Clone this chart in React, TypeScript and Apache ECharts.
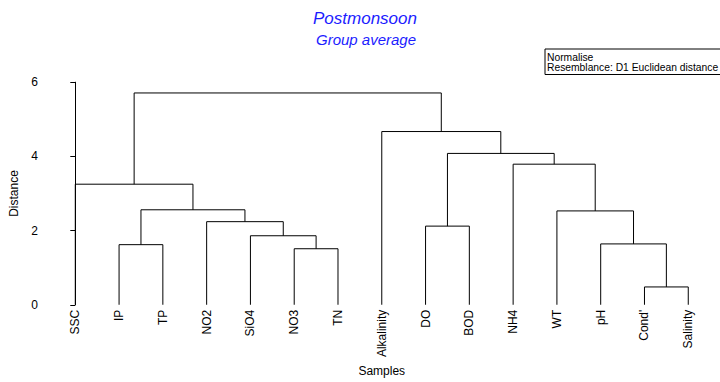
import React, { useEffect, useRef } from "react";
import * as echarts from "echarts";

const leaves = ["SSC", "IP", "TP", "NO2", "SiO4", "NO3", "TN", "Alkalinity", "DO", "BOD", "NH4", "WT", "pH", "Cond'", "Salinity"];
// merge steps: cluster ids 0..14 are leaves, merge k creates cluster 15+k
const mergeLeft = [13, 5, 1, 12, 4, 8, 3, 11, 17, 0, 10, 20, 7, 24];
const mergeRight = [14, 6, 2, 15, 16, 9, 19, 18, 21, 23, 22, 25, 26, 27];
const mergeHeight = [0.48, 1.51, 1.62, 1.64, 1.86, 2.12, 2.24, 2.53, 2.56, 3.25, 3.79, 4.08, 4.67, 5.71];
const yTicks = [0, 2, 4, 6];

function buildLinks() {
  const pos: number[] = leaves.map((_, i) => i);
  const hgt: number[] = leaves.map(() => 0);
  const links: number[][] = [];
  for (let k = 0; k < mergeHeight.length; k++) {
    const a = mergeLeft[k];
    const b = mergeRight[k];
    const h = mergeHeight[k];
    links.push([pos[a], pos[b], hgt[a], hgt[b], h]);
    pos.push((pos[a] + pos[b]) / 2);
    hgt.push(h);
  }
  return links;
}

export default function App() {
  const ref = useRef<HTMLDivElement>(null);
  useEffect(() => {
    if (!ref.current) return;
    const chart = echarts.init(ref.current, null, { renderer: "svg" });
    const links = buildLinks();
    const font = "Arial, 'Liberation Sans', sans-serif";
    chart.setOption({
      animation: false,
      backgroundColor: "#ffffff",
      textStyle: { fontFamily: font },
      grid: { left: 52.4, width: 657.75, top: 82.2, height: 228.3, containLabel: false },
      xAxis: [
        {
          type: "category",
          data: leaves,
          boundaryGap: true,
          position: "bottom",
          axisLine: { show: false },
          axisTick: { show: false },
          axisLabel: { rotate: 90, fontSize: 12, color: "#000", margin: 5, fontFamily: font, interval: 0 },
          name: "Samples",
          nameLocation: "middle",
          nameGap: 57,
          nameTextStyle: { fontSize: 12, color: "#000", fontFamily: font },
        },
        { type: "value", min: -0.5, max: leaves.length - 0.5, show: false },
      ],
      yAxis: {
        type: "value",
        min: yTicks[0],
        max: yTicks[yTicks.length - 1],
        interval: 2,
        offset: 12.4,
        axisLine: { show: true, lineStyle: { color: "#000", width: 1 } },
        axisTick: { show: true, length: 5, lineStyle: { color: "#000" } },
        axisLabel: { fontSize: 12, color: "#000", margin: 3, fontFamily: font },
        splitLine: { show: false },
        name: "Distance",
        nameLocation: "middle",
        nameGap: 21,
        nameTextStyle: { fontSize: 12, color: "#000", fontFamily: font },
      },
      series: [
        {
          type: "custom",
          xAxisIndex: 1,
          yAxisIndex: 0,
          clip: false,
          data: links,
          encode: { x: [0, 1], y: [2, 3, 4] },
          renderItem: (params: any, api: any) => {
            const xl = api.value(0);
            const xr = api.value(1);
            const hl = api.value(2);
            const hr = api.value(3);
            const h = api.value(4);
            const pts = [api.coord([xl, hl]), api.coord([xl, h]), api.coord([xr, h]), api.coord([xr, hr])];
            return {
              type: "polyline",
              shape: { points: pts },
              style: { stroke: "#000", lineWidth: 1, fill: null },
            };
          },
        },
      ],
      graphic: [
        {
          type: "text",
          x: 365,
          y: 18,
          style: { text: "Postmonsoon", fill: "#1c1cff", font: `italic 17px ${font}`, textAlign: "center", textVerticalAlign: "middle" },
        },
        {
          type: "text",
          x: 366,
          y: 39,
          style: { text: "Group average", fill: "#1c1cff", font: `italic 15px ${font}`, textAlign: "center", textVerticalAlign: "middle" },
        },
        {
          type: "rect",
          shape: { x: 545, y: 49, width: 185, height: 25.5 },
          style: { fill: "#fff", stroke: "#000", lineWidth: 1 },
        },
        {
          type: "text",
          x: 547,
          y: 57,
          style: { text: "Normalise", fill: "#000", font: `10.3px ${font}`, textVerticalAlign: "middle" },
        },
        {
          type: "text",
          x: 547,
          y: 67,
          style: { text: "Resemblance: D1 Euclidean distance", fill: "#000", font: `10.3px ${font}`, textVerticalAlign: "middle" },
        },
      ],
    });
    return () => chart.dispose();
  }, []);
  return (
    <div
      ref={ref}
      style={{ position: "absolute", left: 0, top: 0, width: 720, height: 382, background: "#fff" }}
    />
  );
}
